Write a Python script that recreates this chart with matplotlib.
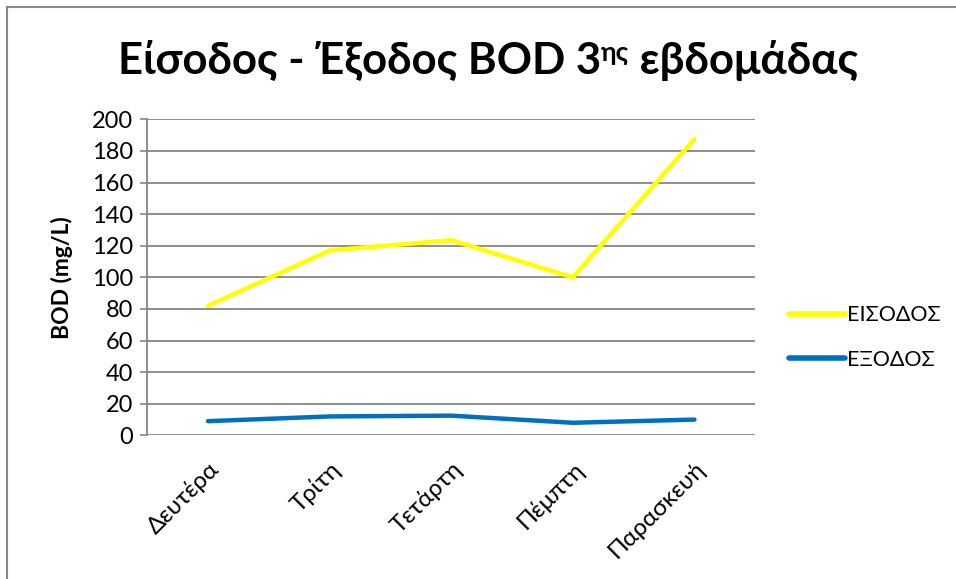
import matplotlib
matplotlib.use("Agg")
import matplotlib.pyplot as plt
from matplotlib.lines import Line2D

days = ["Δευτέρα", "Τρίτη", "Τετάρτη", "Πέμπτη", "Παρασκευή"]
inflow = [82, 117, 123.5, 100, 187.5]
outflow = [9, 12, 12.5, 8, 10]
series_names = ["ΕΙΣΟΔΟΣ", "ΕΞΟΔΟΣ"]
yticks = list(range(0, 201, 20))

FONT = ["Lato", "DejaVu Sans"]
plt.rcParams['font.family'] = FONT

fig = plt.figure(figsize=(9.56, 5.79), dpi=100)
ax = fig.add_axes([0.154, 0.248, 0.636, 0.546])

x = list(range(len(days)))
ax.plot(x, inflow, color="#FFFF00", lw=3.2, solid_capstyle='round', label=series_names[0])
ax.plot(x, outflow, color="#0070C0", lw=3.2, solid_capstyle='round', label=series_names[1])

ax.set_xlim(-0.5, len(days) - 0.5)
ax.set_ylim(0, 200)
ax.set_yticks(yticks)
ax.set_yticklabels([str(v) for v in yticks], fontsize=17)
ax.set_xticks(x)
ax.set_xticklabels(days, rotation=45, ha='right', va='top', rotation_mode='anchor', fontsize=17.5)
ax.tick_params(axis='x', length=0, pad=16)
ax.tick_params(axis='y', length=5, width=1.2, color="#868686", pad=5)
ax.grid(axis='y', color="#868686", lw=1.3)
ax.set_axisbelow(True)
for s in ['top', 'right', 'bottom']:
    ax.spines[s].set_visible(False)
ax.spines['left'].set_color("#868686")
ax.spines['left'].set_linewidth(1.3)
ax.set_ylabel("BOD (mg/L)", fontsize=16.5, fontweight='bold', labelpad=14)

leg = fig.legend(loc='center left', bbox_to_anchor=(0.805, 0.417), frameon=False,
                 fontsize=15.5, handlelength=2.6, handletextpad=0.1, labelspacing=1.15)
for line in leg.get_lines():
    line.set_linewidth(4)

# border
fig.add_artist(Line2D([0.0075, 0.0075], [0, 0.988], transform=fig.transFigure, color="#888888", lw=1.5))
fig.add_artist(Line2D([0.0075, 1.0], [0.988, 0.988], transform=fig.transFigure, color="#888888", lw=1.5))

# title with superscript
fig.canvas.draw()
r = fig.canvas.get_renderer()
parts = [("Είσοδος - Έξοδος BOD 3", 31.5, 0), ("ης", 19, 13), (" εβδομάδας", 31.5, 0)]
texts = []
for s, fs, dy in parts:
    t = fig.text(0, 0, s, fontsize=fs, fontweight='bold', ha='left', va='baseline')
    texts.append(t)
widths = [t.get_window_extent(r).width for t in texts]
total = sum(widths)
xpos = (956 - total) / 2 + 10
base = 579 - 74
for (s, fs, dy), t, w in zip(parts, texts, widths):
    t.set_position((xpos / 956, (base + dy) / 579))
    xpos += w

fig.savefig("out.png", dpi=100)
